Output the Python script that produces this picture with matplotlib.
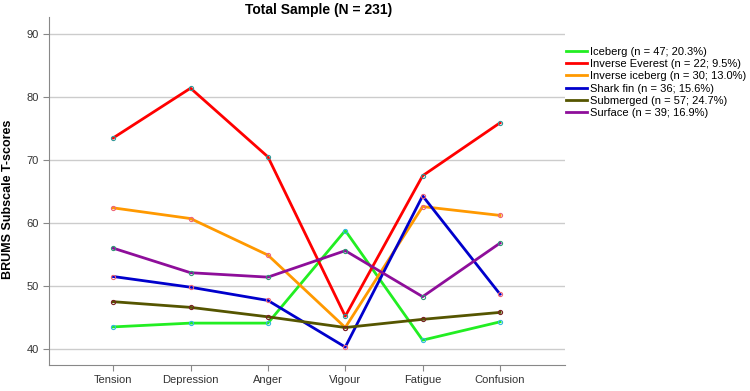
import matplotlib.pyplot as plt
from matplotlib.lines import Line2D

plt.rcParams['font.family'] = ['Liberation Sans', 'DejaVu Sans']

# BRUMS subscales
subscales = ["Tension", "Depression", "Anger", "Vigour", "Fatigue", "Confusion"]

# mean T-scores per mood profile cluster
iceberg = [43.5, 44.1, 44.1, 58.8, 41.4, 44.3]
inverse_everest = [73.5, 81.4, 70.5, 45.2, 67.5, 75.9]
inverse_iceberg = [62.4, 60.7, 54.9, 43.4, 62.6, 61.2]
shark_fin = [51.5, 49.8, 47.7, 40.3, 64.3, 48.7]
submerged = [47.5, 46.6, 45.1, 43.4, 44.7, 45.8]
surface = [56.0, 52.1, 51.4, 55.6, 48.3, 56.8]

labels = ["Iceberg (n = 47; 20.3%)",
          "Inverse Everest (n = 22; 9.5%)",
          "Inverse iceberg (n = 30; 13.0%)",
          "Shark fin (n = 36; 15.6%)",
          "Submerged (n = 57; 24.7%)",
          "Surface (n = 39; 16.9%)"]

series = [iceberg, inverse_everest, inverse_iceberg, shark_fin, submerged, surface]
colors = ["#22ee22", "#ff0000", "#ff9900", "#0000cc", "#555500", "#8e0e9a"]
marker_edges = ["#33bbdd", "#339999", "#ee6677", "#ee6677", "#772222", "#339977"]

fig = plt.figure(figsize=(7.5, 3.91), dpi=100)
ax = fig.add_axes([0.0653, 0.0665, 0.688, 0.89])

x = list(range(len(subscales)))
handles = []
for vals, c, me, lab in zip(series, colors, marker_edges, labels):
    ax.plot(x, vals, color=c, lw=2, marker="o", ms=3,
            mfc="none", mec=me, mew=0.8)
    handles.append(Line2D([], [], color=c, lw=2, label=lab))

ax.set_xlim(-0.83, 5.84)
ax.set_ylim(37.45, 92.7)
ax.set_yticks([40, 50, 60, 70, 80, 90])
ax.set_xticks(x)
ax.set_xticklabels(subscales)
ax.yaxis.grid(True, color="#cccccc", lw=1)
ax.set_axisbelow(True)

for s in ["top", "right"]:
    ax.spines[s].set_visible(False)
for s in ["left", "bottom"]:
    ax.spines[s].set_color("#888888")
ax.tick_params(axis="both", colors="#888888", labelcolor="#333333",
               labelsize=8, length=4)

ax.set_ylabel("BRUMS Subscale T-scores", fontsize=9, fontweight="bold")
ax.yaxis.set_label_coords(-0.068, 0.475)
ax.set_title("Total Sample (N = 231)", fontsize=10, fontweight="bold",
             pad=2, x=0.523)

fig.legend(handles=handles, loc="upper left", bbox_to_anchor=(0.754, 0.88),
           frameon=False, fontsize=8, handlelength=1.9, handletextpad=0.3,
           labelspacing=0.2, borderaxespad=0, borderpad=0)

fig.savefig("out.png", dpi=100)
